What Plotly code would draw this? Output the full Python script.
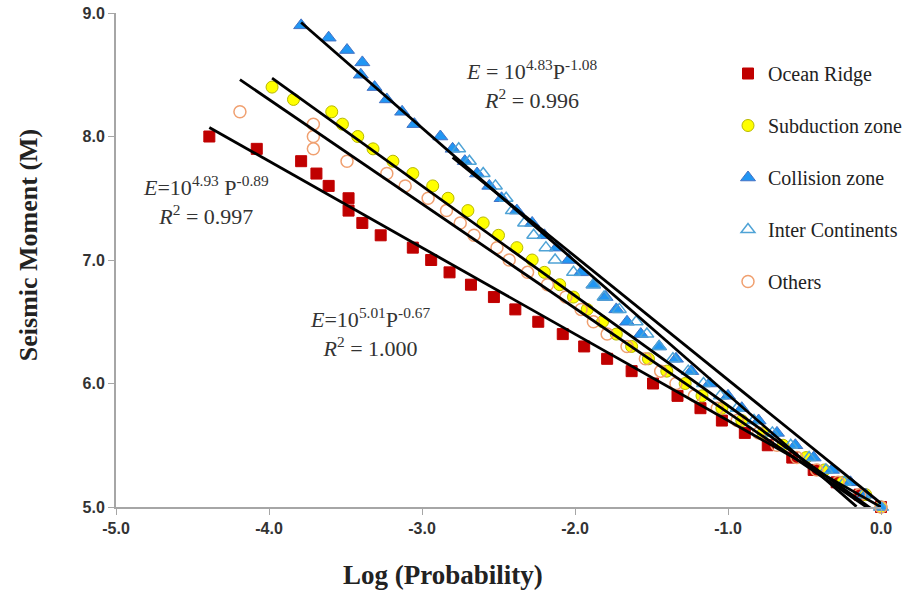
import plotly.graph_objects as go

# magnitude bins (M) and log(probability) for each tectonic setting
ocean_m = [8.0, 7.9, 7.8, 7.7, 7.6, 7.5, 7.4, 7.3, 7.2, 7.1, 7.0, 6.9, 6.8, 6.7, 6.6, 6.5,
           6.4, 6.3, 6.2, 6.1, 6.0, 5.9, 5.8, 5.7, 5.6, 5.5, 5.4, 5.3, 5.2, 5.1, 5.0]
ocean_p = [-4.39, -4.08, -3.79, -3.69, -3.61, -3.48, -3.48, -3.39, -3.27, -3.06, -2.94, -2.82,
           -2.68, -2.53, -2.39, -2.24, -2.08, -1.94, -1.79, -1.63, -1.49, -1.33, -1.18, -1.04,
           -0.89, -0.74, -0.58, -0.44, -0.29, -0.14, 0.0]

subd_m = [8.4, 8.3, 8.2, 8.1, 8.0, 7.9, 7.8, 7.7, 7.6, 7.5, 7.4, 7.3, 7.2, 7.1, 7.0, 6.9, 6.8,
          6.7, 6.6, 6.5, 6.4, 6.3, 6.2, 6.1, 6.0, 5.9, 5.8, 5.7, 5.6, 5.5, 5.4, 5.3, 5.2, 5.1, 5.0]
subd_p = [-3.98, -3.84, -3.59, -3.52, -3.42, -3.32, -3.19, -3.06, -2.93, -2.83, -2.70, -2.60,
          -2.50, -2.38, -2.28, -2.20, -2.10, -2.01, -1.92, -1.82, -1.73, -1.63, -1.52, -1.40,
          -1.28, -1.17, -1.04, -0.91, -0.77, -0.64, -0.49, -0.37, -0.25, -0.10, 0.0]

coll_m = [8.9, 8.8, 8.7, 8.6, 8.5, 8.4, 8.3, 8.2, 8.1, 8.0, 7.9, 7.8, 7.7, 7.6, 7.5, 7.4, 7.3,
          7.2, 7.1, 7.0, 6.9, 6.8, 6.7, 6.6, 6.5, 6.4, 6.3, 6.2, 6.1, 6.0, 5.9, 5.8, 5.7, 5.6,
          5.5, 5.4, 5.3, 5.2, 5.1, 5.0]
coll_p = [-3.79, -3.61, -3.49, -3.39, -3.40, -3.31, -3.23, -3.13, -3.05, -2.88, -2.80, -2.72,
          -2.64, -2.56, -2.48, -2.38, -2.28, -2.20, -2.12, -2.04, -1.96, -1.88, -1.80, -1.73,
          -1.66, -1.57, -1.45, -1.34, -1.24, -1.12, -1.00, -0.91, -0.80, -0.68, -0.56, -0.44,
          -0.32, -0.20, -0.10, 0.0]

inter_m = [7.9, 7.8, 7.7, 7.6, 7.5, 7.4, 7.3, 7.2, 7.1, 7.0, 6.9, 6.8, 6.7, 6.6, 6.5, 6.4, 6.3,
           6.2, 6.1, 6.0, 5.9, 5.8, 5.7, 5.6, 5.5, 5.4, 5.3, 5.2, 5.1, 5.0]
inter_p = [-2.76, -2.69, -2.60, -2.52, -2.45, -2.41, -2.33, -2.27, -2.19, -2.13, -2.01, -1.88,
           -1.81, -1.71, -1.60, -1.53, -1.45, -1.36, -1.26, -1.16, -1.05, -0.94, -0.83, -0.71,
           -0.59, -0.47, -0.36, -0.24, -0.12, 0.0]

other_m = [8.2, 8.1, 8.0, 7.9, 7.8, 7.7, 7.6, 7.5, 7.4, 7.3, 7.2, 7.1, 7.0, 6.9, 6.8, 6.7, 6.6,
           6.5, 6.4, 6.3, 6.2, 6.1, 6.0, 5.9, 5.8, 5.7, 5.6, 5.5, 5.4, 5.3, 5.2, 5.1, 5.0]
other_p = [-4.19, -3.71, -3.71, -3.71, -3.49, -3.23, -3.11, -2.96, -2.84, -2.75, -2.66, -2.51,
           -2.43, -2.31, -2.18, -2.06, -1.96, -1.88, -1.79, -1.66, -1.54, -1.44, -1.34, -1.22,
           -1.07, -0.94, -0.80, -0.68, -0.55, -0.42, -0.28, -0.14, 0.0]

# linear trendlines: M = intercept + slope * logP
trend_intercept = [5.00, 4.93, 4.83, 5.03, 4.92]
trend_slope = [-0.70, -0.89, -1.08, -1.00, -0.845]
trend_from = [-4.39, -3.98, -3.79, -2.80, -4.19]
trend_to = [0.0, -0.06, -0.16, 0.0, -0.08]

x_ticks = [-5.0, -4.0, -3.0, -2.0, -1.0, 0.0]
y_ticks = [5.0, 6.0, 7.0, 8.0, 9.0]

serif = "Liberation Serif, Times New Roman, serif"
sans = "Liberation Sans Narrow, Liberation Sans, Arial, sans-serif"

fig = go.Figure()

series = [
    ("Ocean Ridge", ocean_p, ocean_m, dict(symbol="square", size=11, color="#C00000",
                                          line=dict(color="#C00000", width=1))),
    ("Subduction zone", subd_p, subd_m, dict(symbol="circle", size=12, color="#FFFF00",
                                            line=dict(color="#B8B800", width=1))),
    ("Collision zone", coll_p, coll_m, dict(symbol="triangle-up", size=13, color="#2196F3",
                                           line=dict(color="#4472C4", width=1))),
    ("Inter Continents", inter_p, inter_m, dict(symbol="triangle-up-open", size=12,
                                               color="#4FA3D6", line=dict(width=1.5))),
    ("Others", other_p, other_m, dict(symbol="circle-open", size=12, color="#F0A070",
                                     line=dict(width=1.5))),
]

for name, xs, ys, mk in series:
    fig.add_trace(go.Scatter(x=xs, y=ys, mode="markers", name=name, marker=mk,
                             legendgroup=name, cliponaxis=False))

# trendlines (black, not in legend)
for b0, b1, x0, x1 in zip(trend_intercept, trend_slope, trend_from, trend_to):
    fig.add_trace(go.Scatter(x=[x0, x1], y=[b0 + b1 * x0, b0 + b1 * x1], mode="lines",
                             line=dict(color="black", width=2.8), showlegend=False,
                             hoverinfo="skip", cliponaxis=False))

eq_font = dict(family=serif, size=22, color="#333333")
fig.add_annotation(x=-2.285, y=8.425, xref="x", yref="y", showarrow=False, font=eq_font,
                   text="<i>E</i> = 10<sup>4.83</sup>P<sup>-1.08</sup><br><i>R</i><sup>2</sup> = 0.996")
fig.add_annotation(x=-4.41, y=7.48, xref="x", yref="y", showarrow=False, font=eq_font,
                   text="<i>E</i>=10<sup>4.93</sup> P<sup>-0.89</sup><br><i>R</i><sup>2</sup> = 0.997")
fig.add_annotation(x=-3.34, y=6.415, xref="x", yref="y", showarrow=False, font=eq_font,
                   text="<i>E</i>=10<sup>5.01</sup>P<sup>-0.67</sup><br><i>R</i><sup>2</sup> = 1.000")

# axis titles placed as in the original (not centred on the plot)
title_font = dict(family=serif, color="#222222")
fig.add_annotation(x=0.428, y=-0.138, xref="paper", yref="paper", showarrow=False,
                   xanchor="center", yanchor="middle",
                   text="<b>Log (Probability)</b>", font=dict(size=27, **title_font))
fig.add_annotation(x=-0.115, y=0.53, xref="paper", yref="paper", showarrow=False,
                   xanchor="center", yanchor="middle",
                   textangle=-90, text="<b>Seismic Moment (M)</b>",
                   font=dict(size=26, **title_font))

fig.update_layout(
    width=919, height=592,
    margin=dict(l=116, r=22, t=13, b=85),
    paper_bgcolor="white", plot_bgcolor="white",
    showlegend=True,
    legend=dict(x=0.80, y=0.917, xanchor="left", yanchor="top",
                font=dict(family=serif, size=20, color="#222222"),
                bgcolor="rgba(0,0,0,0)", tracegroupgap=23, itemwidth=30),
    xaxis=dict(range=[-5, 0], tickvals=x_ticks, ticktext=[f"{v:.1f}" for v in x_ticks],
               showgrid=False, zeroline=False, showline=True, linecolor="#A6A6A6",
               linewidth=2, ticks="outside", tickcolor="#A6A6A6", ticklen=6,
               automargin=False, ticklabeloverflow="allow",
               tickfont=dict(family=sans, size=16, color="#333333", weight="bold")),
    yaxis=dict(range=[5, 9], tickvals=y_ticks, ticktext=[f"{v:.1f}" for v in y_ticks],
               showgrid=False, zeroline=False, showline=True, linecolor="#A6A6A6",
               linewidth=2, ticks="outside", tickcolor="#A6A6A6", ticklen=6,
               automargin=False, ticklabeloverflow="allow",
               tickfont=dict(family=sans, size=16, color="#333333", weight="bold")),
)

# drop the default page margin so the figure sits at the window origin
fig.write_html("out.html", config={"displayModeBar": False},
               post_script="document.body.style.margin='0';")
